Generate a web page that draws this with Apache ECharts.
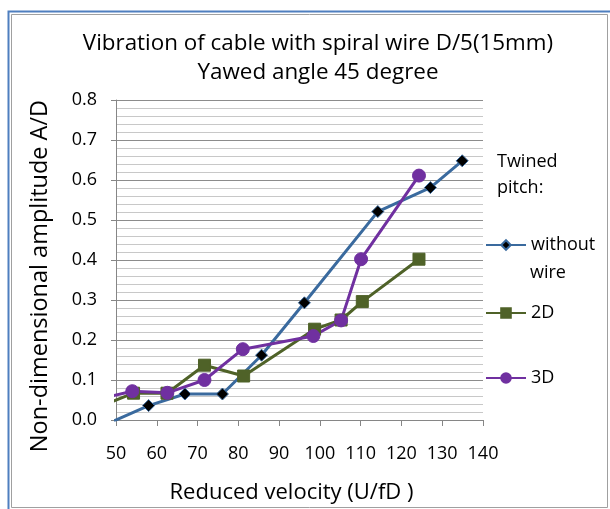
<!DOCTYPE html>
<html><head><meta charset="utf-8">
<script src="https://cdn.jsdelivr.net/npm/echarts@6/dist/echarts.min.js"></script>
<style>html,body{margin:0;padding:0;background:#fff}#c{width:610px;height:509px}</style>
</head><body><div id="c"></div>
<script>
const seriesNames = ['without wire', '2D', '3D'];
const withoutWire = [[46, -0.018], [58.0, 0.036], [66.9, 0.065], [76.1, 0.065], [85.7, 0.162], [96.2, 0.293], [114.2, 0.521], [127.1, 0.581], [134.9, 0.648]];
const twoD = [[46, 0.034], [54.3, 0.067], [62.5, 0.067], [71.7, 0.137], [81.3, 0.110], [98.7, 0.227], [105.2, 0.250], [110.4, 0.296], [124.3, 0.402]];
const threeD = [[46, 0.0525], [54.0, 0.072], [62.6, 0.068], [71.7, 0.100], [81.1, 0.177], [98.4, 0.210], [105.2, 0.249], [110.1, 0.402], [124.3, 0.611]];
const xTicks = [50, 60, 70, 80, 90, 100, 110, 120, 130, 140];
const yTicks = [0, 0.1, 0.2, 0.3, 0.4, 0.5, 0.6, 0.7, 0.8];

const FONT = 'Open Sans';
const legendText = {fontFamily: FONT, fontSize: 18, color: '#000', lineHeight: 26};
function mkLegend(name, top, extra) {
  return Object.assign({
    orient: 'vertical', left: 480, top: top, itemWidth: 40, itemHeight: 12,
    textStyle: legendText, data: [name]
  }, extra || {});
}
const chart = echarts.init(document.getElementById('c'), null, {renderer: 'canvas'});
chart.setOption({
  backgroundColor: '#fff',
  animation: false,
  textStyle: {fontFamily: FONT},
  title: [
    {text: 'Vibration of cable with spiral wire D/5(15mm)\nYawed angle 45 degree', left: 313, top: 24, textAlign: 'center',
     textStyle: {fontFamily: FONT, fontSize: 22.4, fontWeight: 'normal', color: '#000', lineHeight: 29}},
    {text: 'Twined\npitch:', left: 492, top: 144, textStyle: {fontFamily: FONT, fontSize: 18, fontWeight: 'normal', color: '#000', lineHeight: 26}},
    {text: 'wire', left: 525, top: 255, textStyle: {fontFamily: FONT, fontSize: 18, fontWeight: 'normal', color: '#000', lineHeight: 26}}
  ],
  graphic: [
    {type: 'rect', shape: {x: 11.5, y: 14.5, width: 596, height: 493}, style: {fill: null, stroke: '#a0a0a0', lineWidth: 1}, silent: true},
    {type: 'polyline', shape: {points: [[8.5, 509], [8.5, 11.5], [610, 11.5]]}, style: {fill: null, stroke: '#4f7fbf', lineWidth: 2}, silent: true}
  ],
  legend: [
    mkLegend(seriesNames[0], 227, {formatter: () => 'without'}),
    mkLegend(seriesNames[1], 295),
    mkLegend(seriesNames[2], 360)
  ],
  grid: {left: 116, top: 100, width: 367, height: 320},
  xAxis: {
    type: 'value', min: 50, max: 140, interval: 10,
    name: 'Reduced velocity (U/fD )', nameLocation: 'middle', nameGap: 62,
    nameTextStyle: {fontFamily: FONT, fontSize: 22, color: '#000', padding: [0, 16, 0, 0]},
    axisLine: {show: true, lineStyle: {color: '#868686', width: 1}},
    axisTick: {show: true, length: 6, lineStyle: {color: '#868686'}},
    axisLabel: {fontFamily: FONT, fontSize: 18, color: '#000', margin: 25, formatter: v => xTicks.includes(v) ? String(v) : ''},
    splitLine: {show: false}
  },
  yAxis: {
    type: 'value', min: 0, max: 0.8, interval: 0.1,
    name: 'Non-dimensional amplitude A/D', nameLocation: 'middle', nameGap: 64,
    nameTextStyle: {fontFamily: FONT, fontSize: 23.5, color: '#000', padding: [0, 32, 0, 0]},
    axisLine: {show: true, lineStyle: {color: '#868686', width: 1}},
    axisTick: {show: true, length: 5, lineStyle: {color: '#868686'}},
    axisLabel: {fontFamily: FONT, fontSize: 18, color: '#000', margin: 19, formatter: v => yTicks.some(t => Math.abs(t - v) < 1e-9) ? v.toFixed(1) : ''},
    splitLine: {show: true, lineStyle: {color: '#8c8c8c', width: 1}},
    minorTick: {show: false, splitNumber: 5},
    minorSplitLine: {show: true, lineStyle: {color: '#c8c8c8', width: 1}}
  },
  series: [
    {name: seriesNames[0], type: 'line', data: withoutWire, clip: true, symbol: 'diamond', symbolSize: 12,
     lineStyle: {color: '#3a6a9e', width: 3}, itemStyle: {color: '#000', borderColor: '#3a6a9e', borderWidth: 1}},
    {name: seriesNames[1], type: 'line', data: twoD, clip: true, symbol: 'rect', symbolSize: 12,
     lineStyle: {color: '#4f6228', width: 3}, itemStyle: {color: '#4f6228', borderColor: '#4f6228', borderWidth: 1}},
    {name: seriesNames[2], type: 'line', data: threeD, clip: true, symbol: 'circle', symbolSize: 13,
     lineStyle: {color: '#7030a0', width: 3}, itemStyle: {color: '#7030a0', borderColor: '#7030a0', borderWidth: 1}}
  ]
});
</script></body></html>
